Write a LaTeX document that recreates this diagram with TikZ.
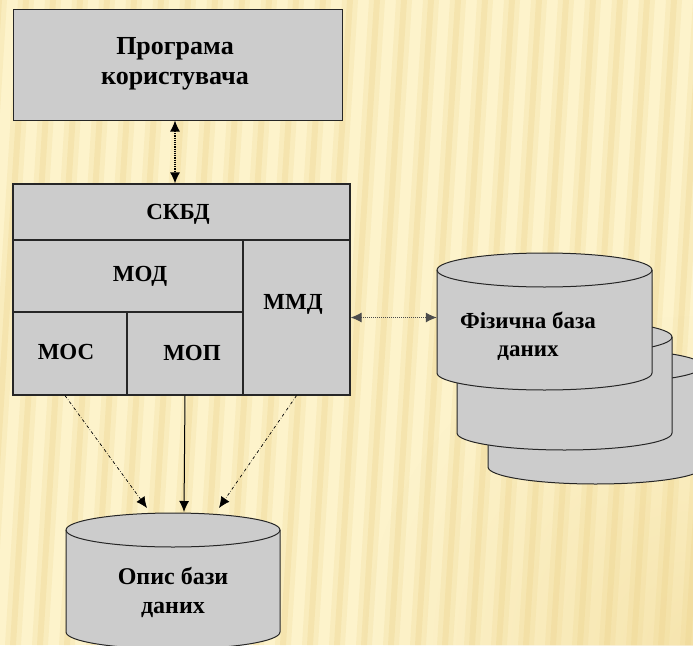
\documentclass[tikz,border=0pt]{standalone}
\usepackage{fontspec}
\setmainfont{Liberation Serif}
\usetikzlibrary{arrows.meta,calc,fadings}
\definecolor{bgcream}{RGB}{253,243,203}
\definecolor{bgstripe}{RGB}{238,212,140}
\definecolor{cellgray}{RGB}{204,204,204}
\tikzfading[name=softdisc, inner color=transparent!0, outer color=transparent!100]
\tikzset{
  x=1pt,y=1pt,
  cell/.style={draw=black!85,line width=1.2pt,fill=cellgray,inner sep=0pt},
  lbl/.style={font=\bfseries\fontsize{23}{28}\selectfont,align=center,inner sep=0pt},
  ghost/.style={inner sep=0pt,draw=none},
  cylline/.style={draw=black!85,line width=1pt,fill=cellgray},
  tipA/.style={-{Latex[length=11pt,width=10pt]}},
  tipB/.style={{Latex[length=11pt,width=10pt]}-{Latex[length=11pt,width=10pt]}},
}
\newcommand\drawcyl[4]{% left, top centre y, bottom centre y, width
  \pgfmathsetmacro\rx{#4/2}
  \filldraw[cylline] (#1,#2) -- (#1,#3)
     arc[start angle=180,end angle=360,x radius=\rx,y radius=17]
     -- (#1+#4,#2)
     arc[start angle=0,end angle=180,x radius=\rx,y radius=17] -- cycle;
  \draw[draw=black!85,line width=1pt] (#1,#2)
     arc[start angle=180,end angle=360,x radius=\rx,y radius=17];
}
\begin{document}
\begin{tikzpicture}
\useasboundingbox (0,0) rectangle (693,-645);
% background
\fill[bgcream] (0,0) rectangle (693,-645);
\begin{scope}
\clip (0,0) rectangle (693,-645);
\foreach \i in {0,...,30} {
  \fill[bgstripe,opacity=0.22] (\i*27-9,0) -- (\i*27+7,0) -- (\i*27-33,-645) -- (\i*27-49,-645) -- cycle;
  \fill[bgstripe,opacity=0.3] (\i*27-4,0) -- (\i*27+2,0) -- (\i*27-38,-645) -- (\i*27-44,-645) -- cycle;
}
\fill[bgstripe,opacity=0.45,path fading=softdisc] (693,-645) circle (330);
\end{scope}

% user program box
\node[cell,line width=1pt,minimum width=329pt,minimum height=111pt] (prog) at (177.5,-64.5) {};
\node[lbl,font=\bfseries\fontsize{26}{30}\selectfont] (tprog) at (175,-64) {Програма\\користувача};

% DBMS block
\node[cell,minimum width=337pt,minimum height=56pt] (hdr) at (181.5,-212) {};
\node[cell,minimum width=230pt,minimum height=72pt] (mod) at (128,-276) {};
\node[cell,minimum width=107pt,minimum height=155pt] (mmd) at (296.5,-317.5) {};
\node[cell,minimum width=114pt,minimum height=83pt] (mos) at (70,-353.5) {};
\node[cell,minimum width=116pt,minimum height=83pt] (mop) at (185,-353.5) {};
\node[lbl] (thdr) at (178,-214) {СКБД};
\node[lbl] (tmod) at (140,-276) {МОД};
\node[lbl] (tmmd) at (293,-304) {ММД};
\node[lbl] (tmos) at (66,-352) {МОС};
\node[lbl] (tmop) at (192,-353) {МОП};

% physical database cylinders
\drawcyl{488}{-366}{-467}{215}
\drawcyl{457}{-337}{-433}{215}
\drawcyl{437}{-270}{-373}{215}
\node[ghost,minimum width=215pt,minimum height=137pt] (phys) at (544.5,-321.5) {};
\node[lbl] (tphys) at (528,-336) {Фізична база\\даних};

% description cylinder
\drawcyl{66}{-530}{-632}{214}
\node[ghost,minimum width=214pt,minimum height=132pt] (opis) at (173,-579) {};
\node[lbl,font=\bfseries\fontsize{24}{29}\selectfont] (topis) at (173,-592) {Опис бази\\даних};

\coordinate (t1) at (147,-508);
\coordinate (t2) at (184,-512);
\coordinate (t3) at (219,-508);

% connectors
\draw[tipB,densely dotted,line width=1.2pt] (prog.south -| tprog) -- (hdr.north -| tprog);
\draw[tipB,densely dotted,line width=1pt,draw=black!70] (mmd.east) -- (mmd.east -| phys.west);
\draw[tipA,dash dot,line width=0.7pt] (mos.south) ++(-5,0) -- (t1);
\draw[tipA,line width=1pt] (mop.south) -- (t2);
\draw[tipA,dash dot,line width=0.7pt] (mmd.south) -- (t3);
\end{tikzpicture}
\end{document}
